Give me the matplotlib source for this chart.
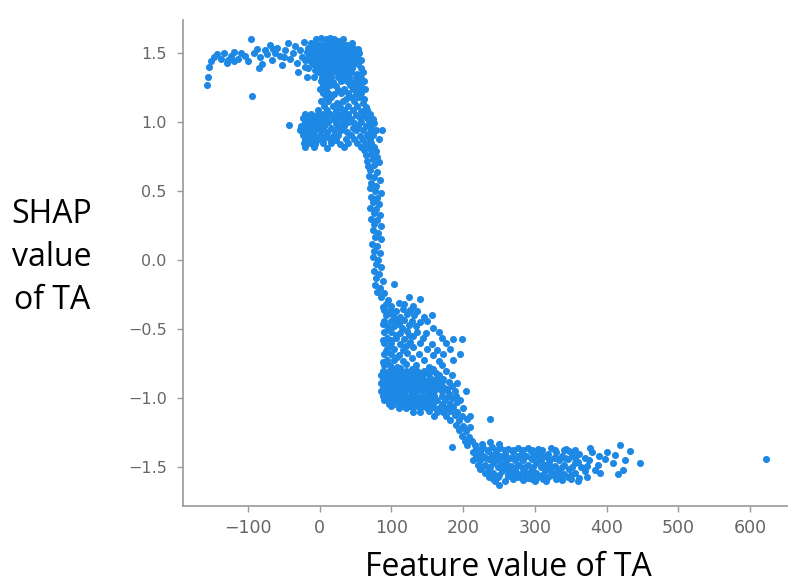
import matplotlib
matplotlib.use("Agg")
import matplotlib.pyplot as plt
import numpy as np

# points, grouped by region: (feature value of TA, SHAP value)
left_tail = [
    (-157, 1.27), (-156, 1.33), (-155, 1.40), (-152, 1.44), (-148, 1.47), (-143, 1.49),
    (-138, 1.46), (-133, 1.50), (-130, 1.43), (-128, 1.45), (-124, 1.48), (-120, 1.44),
    (-119, 1.51), (-114, 1.46), (-110, 1.50), (-104, 1.48), (-100, 1.44), (-96, 1.60),
    (-95, 1.19), (-92, 1.50), (-88, 1.53), (-85, 1.39), (-84, 1.47), (-80, 1.42),
    (-77, 1.52), (-73, 1.49), (-70, 1.56), (-66, 1.45), (-65, 1.53), (-62, 1.50),
    (-59, 1.54), (-55, 1.48), (-52, 1.41), (-50, 1.47), (-48, 1.52), (-45, 1.57),
    (-42, 1.46), (-38, 1.50), (-35, 1.55), (-32, 1.43), (-30, 1.36), (-28, 1.52),
    (-25, 1.47), (-22, 1.58), (-20, 1.40), (-18, 1.33),
]

top_cluster = [
    (-5, 1.60), (2, 1.61), (8, 1.60), (14, 1.61), (20, 1.60), (26, 1.59), (33, 1.60),
    (-12, 1.57), (-5, 1.57), (1, 1.56), (7, 1.57), (13, 1.58), (19, 1.57), (25, 1.56),
    (31, 1.57), (38, 1.56), (45, 1.57),
    (-16, 1.54), (-9, 1.54), (-3, 1.53), (3, 1.54), (9, 1.55), (15, 1.54), (21, 1.53),
    (27, 1.54), (33, 1.54), (39, 1.53), (46, 1.54), (53, 1.53),
    (-18, 1.51), (-12, 1.50), (-6, 1.51), (0, 1.51), (6, 1.50), (12, 1.51), (18, 1.51),
    (24, 1.50), (30, 1.51), (36, 1.51), (42, 1.50), (49, 1.51), (55, 1.50),
    (-15, 1.48), (-9, 1.48), (-3, 1.47), (3, 1.48), (9, 1.48), (15, 1.47), (21, 1.48),
    (27, 1.48), (33, 1.47), (39, 1.48), (46, 1.48), (52, 1.47),
    (-20, 1.45), (-13, 1.44), (-6, 1.45), (0, 1.45), (6, 1.44), (12, 1.45), (18, 1.45),
    (24, 1.44), (30, 1.45), (37, 1.45), (43, 1.44), (50, 1.45), (57, 1.45),
    (-10, 1.42), (-4, 1.42), (2, 1.41), (8, 1.42), (14, 1.42), (20, 1.41), (26, 1.42),
    (33, 1.42), (40, 1.41), (47, 1.42), (54, 1.42),
    (-16, 1.39), (-7, 1.38), (0, 1.39), (6, 1.39), (12, 1.38), (18, 1.39), (24, 1.39),
    (31, 1.38), (38, 1.39), (45, 1.39), (58, 1.39),
    (-3, 1.36), (4, 1.36), (10, 1.35), (16, 1.36), (22, 1.36), (29, 1.35), (36, 1.36),
    (44, 1.36), (52, 1.35), (60, 1.36),
    (-8, 1.33), (3, 1.33), (9, 1.32), (15, 1.33), (25, 1.33), (33, 1.32), (41, 1.33),
    (50, 1.33), (58, 1.32),
]

middle_cluster = [
    (2, 1.30), (10, 1.30), (18, 1.29), (30, 1.30), (38, 1.30), (47, 1.29), (55, 1.30), (62, 1.30),
    (5, 1.27), (14, 1.27), (22, 1.26), (42, 1.27), (50, 1.27), (58, 1.26),
    (0, 1.24), (8, 1.24), (26, 1.23), (34, 1.24), (46, 1.24), (54, 1.23), (63, 1.24),
    (4, 1.21), (12, 1.21), (20, 1.20), (30, 1.21), (40, 1.21), (50, 1.20), (58, 1.21),
    (8, 1.18), (16, 1.18), (36, 1.17), (44, 1.18), (55, 1.18), (62, 1.17),
    (2, 1.15), (12, 1.15), (24, 1.14), (32, 1.15), (48, 1.15), (60, 1.14),
    (6, 1.12), (18, 1.12), (28, 1.11), (40, 1.12), (52, 1.12), (64, 1.11),
    (-2, 1.09), (10, 1.09), (22, 1.08), (34, 1.09), (46, 1.09), (58, 1.08), (66, 1.09),
]

one_cluster = [
    (-20, 1.06), (-12, 1.06), (-4, 1.05), (4, 1.06), (14, 1.06), (24, 1.05), (30, 1.06),
    (40, 1.06), (50, 1.05), (62, 1.06), (70, 1.06),
    (-24, 1.03), (-16, 1.03), (-8, 1.02), (0, 1.03), (8, 1.03), (18, 1.02), (28, 1.03),
    (36, 1.03), (44, 1.02), (56, 1.03), (66, 1.03), (74, 1.02),
    (-43, 0.98), (-20, 1.00), (-12, 1.00), (-4, 0.99), (4, 1.00), (12, 1.00), (22, 0.99),
    (32, 1.00), (40, 1.00), (48, 0.99), (58, 1.00), (68, 1.00), (76, 0.99),
    (-26, 0.97), (-18, 0.97), (-10, 0.96), (-2, 0.97), (6, 0.97), (16, 0.96), (26, 0.97),
    (34, 0.97), (46, 0.96), (54, 0.97), (64, 0.97), (72, 0.96),
    (-28, 0.94), (-22, 0.94), (-14, 0.93), (-6, 0.94), (2, 0.94), (10, 0.93), (20, 0.94),
    (30, 0.94), (38, 0.93), (50, 0.94), (60, 0.94), (70, 0.93), (78, 0.94), (87, 0.94),
    (-24, 0.91), (-16, 0.91), (-8, 0.90), (0, 0.91), (8, 0.91), (18, 0.90), (26, 0.91),
    (44, 0.91), (56, 0.90), (66, 0.91), (74, 0.91),
    (-20, 0.88), (-12, 0.88), (-4, 0.87), (4, 0.88), (14, 0.88), (22, 0.87), (36, 0.88),
    (48, 0.88), (60, 0.87), (70, 0.88), (82, 0.88),
    (-22, 0.85), (-14, 0.85), (-6, 0.84), (4, 0.85), (16, 0.85), (28, 0.84), (40, 0.85),
    (52, 0.85), (64, 0.84), (72, 0.85),
    (-20, 0.82), (-8, 0.82), (10, 0.81), (34, 0.82), (58, 0.82), (68, 0.81), (76, 0.82),
]

descent = [
    (62, 0.80), (70, 0.81), (78, 0.79), (64, 0.76), (72, 0.77), (80, 0.75),
    (66, 0.72), (74, 0.73), (83, 0.71), (67, 0.68), (76, 0.69), (70, 0.65), (80, 0.64),
    (68, 0.61), (76, 0.60), (84, 0.58), (72, 0.56), (79, 0.54), (70, 0.52), (77, 0.50),
    (85, 0.49), (72, 0.46), (80, 0.45), (74, 0.42), (83, 0.41), (70, 0.38), (78, 0.37),
    (75, 0.34), (84, 0.33), (72, 0.30), (80, 0.29), (76, 0.26), (86, 0.25), (74, 0.22),
    (81, 0.20), (77, 0.17), (85, 0.15), (73, 0.12), (80, 0.10), (76, 0.07), (84, 0.05),
    (74, 0.02), (81, 0.00), (78, -0.03), (86, -0.05), (75, -0.08), (82, -0.10),
    (79, -0.13), (88, -0.15), (77, -0.18), (84, -0.20), (104, -0.17), (80, -0.23),
    (90, -0.24), (86, -0.27), (95, -0.29), (125, -0.27), (140, -0.28),
]

triangle = [
    (92, -0.32), (100, -0.33), (110, -0.31), (118, -0.32), (130, -0.33),
    (90, -0.36), (98, -0.36), (106, -0.37), (116, -0.35), (126, -0.36), (136, -0.37),
    (92, -0.40), (102, -0.40), (112, -0.41), (122, -0.39), (132, -0.40), (146, -0.41), (156, -0.40),
    (90, -0.44), (100, -0.44), (108, -0.45), (118, -0.43), (128, -0.44), (140, -0.45), (150, -0.44),
    (94, -0.48), (104, -0.48), (114, -0.49), (124, -0.47), (134, -0.48), (158, -0.49),
    (90, -0.52), (100, -0.52), (112, -0.53), (122, -0.51), (136, -0.52), (148, -0.53), (166, -0.52),
    (94, -0.56), (106, -0.56), (118, -0.57), (130, -0.55), (144, -0.56), (170, -0.56),
    (186, -0.57), (199, -0.57),
    (90, -0.60), (100, -0.60), (112, -0.61), (126, -0.59), (140, -0.60), (156, -0.61), (176, -0.60),
    (94, -0.64), (104, -0.64), (116, -0.65), (130, -0.63), (150, -0.64), (164, -0.65), (182, -0.64),
    (90, -0.68), (100, -0.68), (110, -0.69), (122, -0.67), (138, -0.68), (158, -0.69),
    (172, -0.68), (196, -0.68),
    (94, -0.72), (104, -0.72), (116, -0.73), (128, -0.71), (146, -0.72), (166, -0.73), (186, -0.72),
    (90, -0.76), (98, -0.76), (108, -0.77), (120, -0.75), (134, -0.76), (152, -0.77), (170, -0.76),
    (88, -0.34), (96, -0.38), (104, -0.42), (88, -0.46), (110, -0.46), (96, -0.50),
    (106, -0.54), (88, -0.58), (100, -0.58), (124, -0.54), (98, -0.62), (120, -0.62),
    (92, -0.66), (108, -0.70), (88, -0.74), (112, -0.78),
]

dense_block = [
    (88, -0.80), (96, -0.80), (104, -0.79), (112, -0.80), (120, -0.80), (128, -0.79),
    (136, -0.80), (146, -0.80), (158, -0.79), (176, -0.80),
    (86, -0.83), (94, -0.83), (102, -0.82), (110, -0.83), (118, -0.83), (126, -0.82),
    (134, -0.83), (142, -0.83), (152, -0.82), (166, -0.83), (184, -0.83),
    (88, -0.86), (96, -0.86), (104, -0.85), (112, -0.86), (120, -0.86), (128, -0.85),
    (136, -0.86), (144, -0.86), (154, -0.85), (162, -0.86), (172, -0.86),
    (86, -0.89), (94, -0.89), (102, -0.88), (110, -0.89), (118, -0.89), (126, -0.88),
    (134, -0.89), (142, -0.89), (150, -0.88), (158, -0.89), (168, -0.89), (180, -0.88), (192, -0.89),
    (88, -0.92), (96, -0.92), (104, -0.91), (112, -0.92), (120, -0.92), (128, -0.91),
    (136, -0.92), (144, -0.92), (152, -0.91), (162, -0.92), (172, -0.92), (184, -0.91),
    (86, -0.95), (94, -0.95), (102, -0.94), (110, -0.95), (118, -0.95), (126, -0.94),
    (134, -0.95), (142, -0.95), (150, -0.94), (160, -0.95), (170, -0.95), (178, -0.94),
    (188, -0.95), (204, -0.95),
    (88, -0.98), (96, -0.98), (104, -0.97), (112, -0.98), (120, -0.98), (128, -0.97),
    (136, -0.98), (144, -0.98), (152, -0.97), (160, -0.98), (170, -0.98), (180, -0.97), (190, -0.98),
    (90, -1.01), (98, -1.01), (106, -1.00), (114, -1.01), (122, -1.01), (130, -1.00),
    (138, -1.01), (146, -1.01), (154, -1.00), (164, -1.01), (174, -1.01), (184, -1.00), (196, -1.01),
    (96, -1.04), (104, -1.04), (112, -1.03), (120, -1.04), (128, -1.04), (136, -1.03),
    (144, -1.04), (152, -1.04), (160, -1.03), (170, -1.04), (182, -1.04), (192, -1.03),
    (110, -1.07), (120, -1.07), (130, -1.06), (140, -1.07), (150, -1.07), (158, -1.06),
    (166, -1.07), (176, -1.07), (186, -1.06), (200, -1.07),
    (130, -1.10), (140, -1.10), (152, -1.09), (164, -1.10), (172, -1.10), (182, -1.09), (192, -1.10),
    (160, -1.13), (176, -1.13), (188, -1.12), (198, -1.13), (210, -1.13),
    (182, -1.16), (194, -1.16), (206, -1.15), (237, -1.15),
    (190, -1.19), (200, -1.20), (210, -1.21), (194, -1.23), (204, -1.24), (198, -1.27),
    (208, -1.28), (202, -1.31), (212, -1.31), (206, -1.34), (185, -1.35), (216, -1.34),
    (92, -0.815), (100, -0.815), (108, -0.815), (116, -0.815), (124, -0.815), (132, -0.815),
    (140, -0.815), (150, -0.815), (162, -0.815),
    (90, -0.875), (98, -0.875), (106, -0.875), (114, -0.875), (122, -0.875), (130, -0.875),
    (140, -0.875), (148, -0.875), (158, -0.875), (170, -0.875),
    (92, -0.935), (100, -0.935), (108, -0.935), (116, -0.935), (124, -0.935), (132, -0.935),
    (140, -0.935), (148, -0.935), (158, -0.935), (168, -0.935), (178, -0.935),
    (92, -0.995), (100, -0.995), (108, -0.995), (116, -0.995), (124, -0.995), (132, -0.995),
    (140, -0.995), (150, -0.995), (160, -0.995), (176, -0.995),
    (100, -1.055), (116, -1.055), (126, -1.055), (136, -1.055), (146, -1.055), (156, -1.055),
    (172, -1.055),
]

bottom_band = [
    (226, -1.33), (238, -1.32), (250, -1.33),
    (218, -1.36), (228, -1.36), (240, -1.35), (252, -1.36), (262, -1.37), (276, -1.36),
    (290, -1.36), (304, -1.37), (322, -1.36), (344, -1.37), (377, -1.36), (419, -1.34),
    (214, -1.39), (224, -1.39), (234, -1.38), (246, -1.39), (258, -1.40), (270, -1.39),
    (282, -1.39), (294, -1.38), (306, -1.39), (318, -1.40), (330, -1.39), (348, -1.38),
    (362, -1.40), (380, -1.39), (401, -1.39), (433, -1.38),
    (218, -1.42), (228, -1.42), (240, -1.41), (252, -1.42), (264, -1.43), (276, -1.42),
    (288, -1.42), (300, -1.41), (312, -1.42), (326, -1.43), (338, -1.42), (352, -1.41),
    (370, -1.43), (390, -1.42), (412, -1.41),
    (214, -1.45), (224, -1.45), (236, -1.44), (248, -1.45), (260, -1.46), (272, -1.45),
    (284, -1.45), (296, -1.44), (308, -1.45), (320, -1.46), (334, -1.45), (346, -1.44),
    (360, -1.46), (376, -1.45), (398, -1.44), (425, -1.45),
    (220, -1.48), (230, -1.48), (242, -1.47), (254, -1.48), (266, -1.49), (278, -1.48),
    (290, -1.48), (302, -1.47), (314, -1.48), (328, -1.49), (340, -1.48), (356, -1.47),
    (372, -1.49), (388, -1.48), (409, -1.47), (447, -1.47),
    (224, -1.51), (236, -1.51), (248, -1.50), (260, -1.51), (272, -1.52), (284, -1.51),
    (296, -1.51), (308, -1.50), (320, -1.51), (334, -1.52), (348, -1.51), (364, -1.50),
    (384, -1.52), (423, -1.52),
    (230, -1.54), (242, -1.54), (254, -1.53), (266, -1.54), (278, -1.55), (290, -1.54),
    (302, -1.54), (314, -1.53), (326, -1.54), (340, -1.55), (356, -1.54), (370, -1.53),
    (391, -1.54), (416, -1.55),
    (236, -1.57), (248, -1.57), (262, -1.56), (276, -1.57), (290, -1.58), (304, -1.57),
    (318, -1.57), (332, -1.56), (346, -1.57), (362, -1.58), (373, -1.57),
    (244, -1.60), (258, -1.60), (284, -1.59), (300, -1.60), (316, -1.60), (338, -1.59),
    (360, -1.60), (250, -1.63),
    (222, -1.375), (234, -1.375), (246, -1.375), (258, -1.375), (270, -1.375), (284, -1.375),
    (296, -1.375), (310, -1.375), (328, -1.375), (340, -1.375), (356, -1.375),
    (220, -1.435), (232, -1.435), (244, -1.435), (256, -1.435), (268, -1.435), (280, -1.435),
    (294, -1.435), (306, -1.435), (318, -1.435), (330, -1.435), (342, -1.435), (356, -1.435),
    (226, -1.495), (238, -1.495), (250, -1.495), (262, -1.495), (274, -1.495), (286, -1.495),
    (298, -1.495), (310, -1.495), (322, -1.495), (338, -1.495), (352, -1.495),
    (238, -1.555), (250, -1.555), (262, -1.555), (274, -1.555), (286, -1.555), (298, -1.555),
    (310, -1.555), (322, -1.555), (336, -1.555), (350, -1.555),
    (242, -1.585), (270, -1.585), (296, -1.585), (312, -1.585), (330, -1.585), (350, -1.585),
    (622, -1.44),
]

groups = [left_tail, top_cluster, middle_cluster, one_cluster, descent,
          triangle, dense_block, bottom_band]
pts = np.array([p for g in groups for p in g])
ta = pts[:, 0]
shap_ta = pts[:, 1]

x_ticks = [-100, 0, 100, 200, 300, 400, 500, 600]
y_ticks = [-1.5, -1.0, -0.5, 0.0, 0.5, 1.0, 1.5]

fig = plt.figure(figsize=(7.88, 5.86), dpi=100)
ax = fig.add_axes([0.232, 0.1365, 0.768, 0.8295])

ax.scatter(ta, shap_ta, s=26, color='#1E88E5', linewidth=0)

ax.set_xlim(-191, 653)
ax.set_ylim(-1.78, 1.74)
ax.set_xticks(x_ticks)
ax.set_yticks(y_ticks)

for side in ['top', 'right']:
    ax.spines[side].set_visible(False)
for side in ['left', 'bottom']:
    ax.spines[side].set_color('#999999')
    ax.spines[side].set_linewidth(1.2)
ax.tick_params(colors='#999999', labelcolor='#666666', length=4.5, width=1)
ax.tick_params(axis='x', labelsize=12.5, pad=5)
ax.tick_params(axis='y', labelsize=11.5, pad=7)

fig.text(0.066, 0.561, 'SHAP\nvalue\nof TA', ha='center', va='center',
         fontsize=23, family='Open Sans', linespacing=1.4)
fig.text(0.645, 0.031, 'Feature value of TA', ha='center', va='center',
         fontsize=23, family='Open Sans')

fig.savefig('out.png', dpi=100)
